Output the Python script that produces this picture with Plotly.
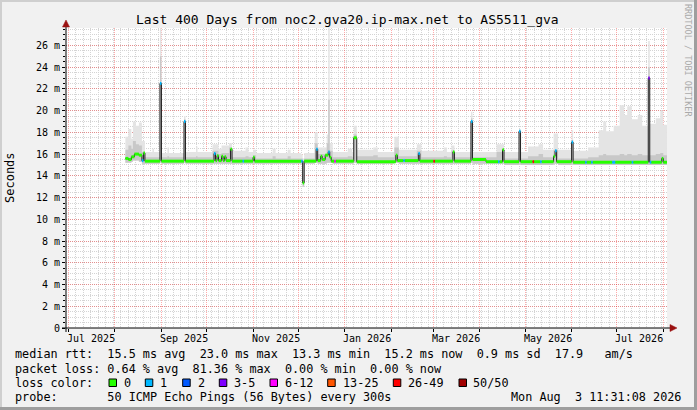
import plotly.graph_objects as go

# median rtt in ms; each value holds from its date until the next one
med_dates = ["2025-08-08", "2025-08-10", "2025-08-12", "2025-08-14", "2025-08-17", "2025-08-19",
             "2025-08-20", "2025-08-21", "2025-08-31", "2025-09-01", "2025-09-16", "2025-09-17",
             "2025-10-06", "2025-10-07", "2025-10-08", "2025-10-09", "2025-10-11", "2025-10-12",
             "2025-10-13", "2025-10-14", "2025-10-17", "2025-10-18", "2025-10-25", "2025-10-26",
             "2025-11-01", "2025-11-02", "2025-12-03", "2025-12-04", "2025-12-05", "2025-12-13",
             "2025-12-14", "2025-12-16", "2025-12-17", "2025-12-19", "2025-12-21", "2025-12-22",
             "2025-12-23", "2025-12-25", "2025-12-26", "2026-01-07", "2026-01-09", "2026-02-04",
             "2026-02-05", "2026-02-09", "2026-02-10", "2026-02-19", "2026-02-20", "2026-03-01",
             "2026-03-02", "2026-03-14", "2026-03-15", "2026-03-26", "2026-03-27", "2026-04-05",
             "2026-04-13", "2026-04-14", "2026-04-16", "2026-04-17", "2026-04-27", "2026-04-28",
             "2026-05-06", "2026-05-07", "2026-05-11", "2026-05-12", "2026-05-20", "2026-05-21",
             "2026-05-22", "2026-06-01", "2026-06-02", "2026-06-10", "2026-06-11", "2026-06-14",
             "2026-06-15", "2026-06-28", "2026-06-30", "2026-07-11", "2026-07-12", "2026-07-22",
             "2026-07-23", "2026-07-24", "2026-07-31", "2026-08-01", "2026-08-03 11:00"]
med_vals = [15.6, 15.5, 15.75, 16.0, 15.9, 15.4,
            16.1, 15.35, 22.5, 15.35, 19.0, 15.35,
            16.05, 15.4, 15.85, 15.4, 15.8, 15.4,
            15.75, 15.4, 16.45, 15.35, 15.35, 15.35,
            15.7, 15.35, 15.35, 13.35, 15.35, 16.45,
            15.4, 15.8, 15.5, 15.9, 16.2, 15.7,
            15.35, 15.35, 15.35, 17.5, 15.3, 15.9,
            15.4, 15.4, 15.4, 16.05, 15.35, 15.35,
            15.35, 16.2, 15.35, 19.0, 15.5, 15.3,
            15.3, 15.3, 16.4, 15.3, 18.1, 15.3,
            15.3, 15.3, 15.3, 15.3, 15.8, 16.3,
            15.3, 17.1, 15.25, 15.25, 15.25, 15.25,
            15.25, 15.25, 15.25, 15.25, 15.25, 23.0,
            15.25, 15.25, 15.6, 15.25, 15.2]
# loss bucket per median step (index into loss_labels)
med_loss = [0, 0, 0, 0, 0, 1,
            0, 0, 1, 0, 1, 0,
            1, 0, 0, 0, 0, 0,
            0, 0, 0, 0, 1, 0,
            0, 0, 1, 0, 0, 1,
            0, 0, 0, 0, 1, 0,
            0, 4, 0, 0, 0, 0,
            0, 1, 0, 1, 0, 6,
            0, 0, 0, 1, 0, 0,
            1, 0, 0, 0, 1, 0,
            6, 0, 1, 0, 0, 1,
            0, 1, 0, 1, 0, 1,
            0, 1, 0, 1, 0, 3,
            1, 0, 0, 0, 0]

# smoke: spread of the single pings (ms)
smoke_dates = ["2025-08-08", "2025-08-10", "2025-08-12", "2025-08-13", "2025-08-15", "2025-08-17",
               "2025-08-19", "2025-08-21", "2025-08-26", "2025-08-27", "2025-08-31", "2025-09-01",
               "2025-09-05", "2025-09-06", "2025-09-16", "2025-09-17", "2025-09-24", "2025-09-25",
               "2025-10-05", "2025-10-09", "2025-10-11", "2025-10-16", "2025-10-18", "2025-10-27",
               "2025-10-29", "2025-11-01", "2025-11-03", "2025-11-14", "2025-11-16", "2025-11-24",
               "2025-11-26", "2025-12-03", "2025-12-04", "2025-12-05", "2025-12-12", "2025-12-14",
               "2025-12-20", "2025-12-21", "2025-12-22", "2025-12-24", "2026-01-03", "2026-01-06",
               "2026-01-07", "2026-01-09", "2026-01-20", "2026-01-23", "2026-02-03", "2026-02-06",
               "2026-02-18", "2026-02-21", "2026-03-08", "2026-03-10", "2026-03-13", "2026-03-15",
               "2026-03-26", "2026-03-27", "2026-04-12", "2026-04-17", "2026-04-27", "2026-04-28",
               "2026-05-03", "2026-05-10", "2026-05-13", "2026-05-20", "2026-05-23", "2026-06-01",
               "2026-06-02", "2026-06-12", "2026-06-19", "2026-06-22", "2026-06-24", "2026-06-29",
               "2026-07-03", "2026-07-06", "2026-07-08", "2026-07-11", "2026-07-15", "2026-07-18",
               "2026-07-22", "2026-07-23", "2026-07-27", "2026-07-30", "2026-08-01", "2026-08-03 11:00"]
smoke_hi = [17.6, 18.3, 17.4, 19.0, 18.6, 18.9,
            17.2, 16.2, 16.5, 16.2, 28.0, 16.1,
            16.6, 16.1, 19.5, 16.2, 16.7, 16.2,
            16.9, 16.5, 16.8, 17.0, 16.3, 16.6,
            16.2, 16.4, 16.1, 16.5, 16.1, 16.4,
            16.1, 16.0, 15.6, 16.1, 18.0, 16.6,
            17.8, 28.0, 17.0, 16.2, 16.5, 16.2,
            18.6, 16.4, 16.6, 16.2, 17.6, 16.4,
            16.9, 16.3, 16.6, 16.2, 16.8, 16.2,
            19.9, 16.2, 16.9, 16.2, 18.3, 16.2,
            16.7, 16.9, 16.4, 17.9, 16.4, 18.2,
            16.3, 16.6, 18.2, 19.0, 18.1, 18.6,
            20.5, 19.6, 20.4, 19.2, 19.6, 18.6,
            26.4, 18.8, 19.3, 20.0, 18.7, 18.7]
smoke_mid = [16.4, 16.8, 16.5, 17.2, 16.9, 16.8,
             16.2, 15.7, 15.7, 15.7, 25.0, 15.7,
             15.8, 15.7, 19.2, 15.7, 15.8, 15.7,
             16.3, 16.0, 16.1, 16.6, 15.7, 15.8,
             15.7, 15.9, 15.6, 15.8, 15.6, 15.8,
             15.6, 15.6, 15.4, 15.6, 17.0, 16.0,
             17.0, 21.0, 16.3, 15.7, 15.8, 15.7,
             17.8, 15.8, 15.9, 15.7, 16.6, 15.8,
             16.3, 15.7, 15.8, 15.7, 16.3, 15.7,
             19.3, 15.7, 16.2, 15.6, 18.0, 15.6,
             15.8, 16.0, 15.7, 16.4, 15.6, 17.3,
             15.6, 15.7, 15.9, 16.0, 15.9, 15.9,
             16.0, 15.9, 16.0, 15.9, 16.0, 15.9,
             24.0, 15.9, 16.0, 16.1, 15.9, 15.9]
smoke_lo = [15.2, 15.2, 15.3, 15.4, 15.4, 15.3,
            15.1, 15.1, 15.1, 15.1, 15.2, 15.1,
            15.1, 15.1, 15.2, 15.1, 15.1, 15.1,
            15.1, 15.1, 15.1, 15.1, 15.1, 15.1,
            15.1, 15.1, 15.1, 15.1, 15.1, 15.1,
            15.1, 15.1, 13.0, 15.1, 15.2, 15.1,
            15.2, 15.2, 15.2, 15.1, 15.1, 15.1,
            15.2, 15.1, 15.1, 15.1, 15.2, 15.1,
            15.1, 15.1, 15.1, 15.1, 15.1, 15.1,
            15.2, 15.1, 15.1, 15.0, 15.1, 15.0,
            15.0, 15.0, 15.0, 15.1, 15.0, 15.1,
            15.0, 15.0, 15.0, 15.0, 15.0, 15.0,
            15.0, 15.0, 15.0, 15.0, 15.0, 15.0,
            15.0, 15.0, 15.0, 15.0, 15.0, 15.0]

loss_labels = ["0", "1", "2", "3-5", "6-12", "13-25", "26-49", "50/50"]
loss_colors = ["#26ff00", "#00b8ff", "#0059ff", "#7e00ff", "#ff00ff", "#ff5500", "#ff0000", "#a10000"]

month_ticks = ["2025-07-16", "2025-09-16", "2025-11-16", "2026-01-16", "2026-03-16", "2026-05-16", "2026-07-16"]
month_labels = ["Jul 2025", "Sep 2025", "Nov 2025", "Jan 2026", "Mar 2026", "May 2026", "Jul 2026"]
y_ticks = [0, 2, 4, 6, 8, 10, 12, 14, 16, 18, 20, 22, 24, 26]
y_labels = ["0", "2 m", "4 m", "6 m", "8 m", "10 m", "12 m", "14 m", "16 m", "18 m", "20 m", "22 m", "24 m", "26 m"]

t_start = "2025-06-29 11:31:08"
t_end = "2026-08-03 11:31:08"

title = "Last 400 Days from noc2.gva20.ip-max.net to AS5511_gva"
line_rtt = "median rtt:  15.5 ms avg  23.0 ms max  13.3 ms min  15.2 ms now  0.9 ms sd  17.9   am/s"
line_loss = "packet loss: 0.64 % avg  81.36 % max  0.00 % min  0.00 % now"
line_probe = "probe:       50 ICMP Echo Pings (56 Bytes) every 300s"
stamp = "Mon Aug  3 11:31:08 2026"

MONO = "DejaVu Sans Mono"
LEG = 11.8  # legend font size
L, R, T, B = 66, 667, 28, 328
W, H = R - L, B - T


def px(x):
    return (x - L) / W


def py(y):
    return (B - y) / H


def pre(s):
    return s.replace(" ", "\u00a0")


def label(text, x, y, size=LEG, **kw):
    d = dict(text=pre(text), x=x, y=y, xref="paper", yref="paper", showarrow=False,
             xanchor="left", yanchor="middle", font=dict(size=size, family=MONO, color="black"))
    d.update(kw)
    return d


fig = go.Figure()

# smoke, light outer band then darker inner band
fig.add_trace(go.Scatter(x=smoke_dates, y=smoke_lo, mode="lines", line=dict(width=0, shape="hv"),
                         showlegend=False, hoverinfo="skip"))
fig.add_trace(go.Scatter(x=smoke_dates, y=smoke_hi, mode="lines", line=dict(width=0, shape="hv"),
                         fill="tonexty", fillcolor="#e4e4e4", showlegend=False, hoverinfo="skip"))
fig.add_trace(go.Scatter(x=smoke_dates, y=smoke_lo, mode="lines", line=dict(width=0, shape="hv"),
                         showlegend=False, hoverinfo="skip"))
fig.add_trace(go.Scatter(x=smoke_dates, y=smoke_mid, mode="lines", line=dict(width=0, shape="hv"),
                         fill="tonexty", fillcolor="#c8c8c8", showlegend=False, hoverinfo="skip"))

# thin median line
fig.add_trace(go.Scatter(x=med_dates, y=med_vals, mode="lines",
                         line=dict(color="#202020", width=1, shape="hv"),
                         showlegend=False, hoverinfo="skip"))

# colored median segments by loss bucket
for c, col in enumerate(loss_colors):
    xs, ys = [], []
    for i in range(len(med_dates) - 1):
        if med_loss[i] == c:
            xs += [med_dates[i], med_dates[i + 1], None]
            ys += [med_vals[i], med_vals[i], None]
    if xs:
        fig.add_trace(go.Scatter(x=xs, y=ys, mode="lines", line=dict(color=col, width=3),
                                 showlegend=False, hoverinfo="skip"))

ann = []
ann.append(label(title, px(347.5), py(19.5), size=13, xanchor="center"))
ann.append(label("Seconds", px(10), py(178), size=12, textangle=-90, xanchor="center"))
ann.append(label("RRDTOOL / TOBI OETIKER", px(688), py(60), textangle=90, xanchor="center",
                 font=dict(size=8.5, family=MONO, color="#aaaaaa")))
for d, lab in zip(month_ticks, month_labels):
    ann.append(label(lab, d, py(338), size=10, xref="x", xanchor="center"))
for txt, yy in [(line_rtt, 354), (line_loss, 368.5), ("loss color:", 382.5), (line_probe, 397)]:
    ann.append(label(txt, px(13), py(yy)))
ann.append(label(stamp, px(682.5), py(397), xanchor="right"))

shapes = []
box_x = [109, 145.3, 182.7, 219.3, 270, 327.7, 393.3, 459]
text_x = [124, 160, 197.7, 234.3, 285, 342.7, 407.7, 473.3]
for bx, tx, col, lab in zip(box_x, text_x, loss_colors, loss_labels):
    shapes.append(dict(type="rect", xref="paper", yref="paper", x0=px(bx), x1=px(bx + 7.5),
                       y0=py(386.5), y1=py(379), fillcolor=col, line=dict(color="black", width=1)))
    ann.append(label(lab, px(tx - 2), py(382.5)))

# frame
shapes.append(dict(type="rect", xref="paper", yref="paper", x0=px(0), x1=px(697), y0=py(0), y1=py(2),
                   fillcolor="#cfcfcf", line=dict(width=0)))
shapes.append(dict(type="rect", xref="paper", yref="paper", x0=px(0), x1=px(2), y0=py(0), y1=py(410),
                   fillcolor="#cfcfcf", line=dict(width=0)))
shapes.append(dict(type="rect", xref="paper", yref="paper", x0=px(0), x1=px(697), y0=py(407), y1=py(410),
                   fillcolor="#9e9e9e", line=dict(width=0)))
shapes.append(dict(type="rect", xref="paper", yref="paper", x0=px(694), x1=px(697), y0=py(0), y1=py(410),
                   fillcolor="#9e9e9e", line=dict(width=0)))

# axes with arrows
shapes.append(dict(type="line", xref="paper", yref="paper", x0=px(62), x1=px(671), y0=py(328), y1=py(328),
                   line=dict(color="black", width=1), layer="above"))
shapes.append(dict(type="line", xref="paper", yref="paper", x0=px(66), x1=px(66), y0=py(332), y1=py(25),
                   line=dict(color="black", width=1), layer="above"))
shapes.append(dict(type="path", xref="paper", yref="paper",
                   path="M %f %f L %f %f L %f %f Z" % (px(66), py(20), px(62.5), py(27), px(69.5), py(27)),
                   fillcolor="#9a1010", line=dict(color="#9a1010", width=0.5), layer="above"))
shapes.append(dict(type="path", xref="paper", yref="paper",
                   path="M %f %f L %f %f L %f %f Z" % (px(677), py(328), px(670), py(324.5), px(670), py(331.5)),
                   fillcolor="#9a1010", line=dict(color="#9a1010", width=0.5), layer="above"))

fig.update_layout(
    width=697, height=410, autosize=False,
    margin=dict(l=L, r=697 - R, t=T, b=410 - B, pad=0, autoexpand=False),
    paper_bgcolor="#f1f1f1", plot_bgcolor="white",
    font=dict(family=MONO, color="black"),
    showlegend=False,
    annotations=ann,
    shapes=shapes,
    xaxis=dict(range=[t_start, t_end], type="date", showticklabels=False, automargin=False,
               showgrid=True, gridcolor="rgba(255,0,0,0.33)", griddash="1px,1px", gridwidth=1,
               dtick="M1", tick0="2025-07-01", ticks="outside", ticklen=3, tickcolor="black",
               minor=dict(dtick=5 * 86400000, tick0="2025-07-01", showgrid=True,
                          gridcolor="#d4d4d4", griddash="1px,1px", ticks=""),
               zeroline=False, showline=False, fixedrange=True),
    yaxis=dict(range=[0, 27.6], tickvals=y_ticks, ticktext=y_labels, automargin=False,
               tickfont=dict(size=10, family=MONO),
               showgrid=True, gridcolor="rgba(255,0,0,0.33)", griddash="1px,1px", gridwidth=1,
               ticks="outside", ticklen=3, tickcolor="black",
               minor=dict(dtick=0.5, showgrid=True, gridcolor="#d4d4d4", griddash="1px,1px",
                          ticks="outside", ticklen=2, tickcolor="black"),
               zeroline=False, showline=False, fixedrange=True),
)

# the page body has a default 8px margin; drop it so the figure sits at the window corner
fig.write_html("out.html", config={"displayModeBar": False},
               post_script="document.body.style.margin='0px';")
